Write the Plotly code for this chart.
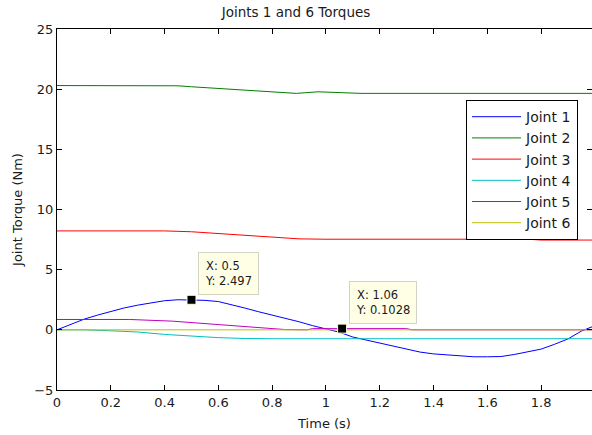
import plotly.graph_objects as go

# ---- data ----
t_j1 = [0, 0.05, 0.1, 0.15, 0.2, 0.25, 0.3, 0.35, 0.4, 0.45, 0.5, 0.55, 0.6, 0.65, 0.7,
        0.75, 0.8, 0.85, 0.9, 0.95, 1.0, 1.05, 1.1, 1.15, 1.2, 1.25, 1.3, 1.35, 1.4,
        1.45, 1.5, 1.55, 1.6, 1.65, 1.7, 1.75, 1.8, 1.85, 1.9, 1.95, 2.0]
joint1 = [0, 0.42, 0.88, 1.22, 1.55, 1.82, 2.05, 2.25, 2.42, 2.5, 2.5, 2.45, 2.35, 2.1,
          1.8, 1.5, 1.23, 0.95, 0.67, 0.35, 0.1, -0.2, -0.6, -0.85, -1.1, -1.3, -1.55,
          -1.85, -2.0, -2.1, -2.2, -2.24, -2.24, -2.22, -2.05, -1.85, -1.6, -1.2, -0.75,
          -0.1, 0.35]

t_j2 = [0, 0.4, 0.45, 0.5, 0.6, 0.7, 0.8, 0.89, 0.97, 1.13, 2.0]
joint2 = [20.3, 20.3, 20.28, 20.2, 20.05, 19.9, 19.8, 19.65, 19.78, 19.65, 19.65]

t_j3 = [0, 0.4, 0.5, 0.6, 0.7, 0.8, 0.9, 1.0, 1.75, 1.8, 2.0]
joint3 = [8.22, 8.22, 8.15, 8.0, 7.82, 7.68, 7.56, 7.53, 7.53, 7.46, 7.46]

t_j4 = [0, 0.1, 0.2, 0.3, 0.4, 0.5, 0.6, 0.7, 0.8, 2.0]
joint4 = [0, 0, -0.08, -0.18, -0.38, -0.52, -0.65, -0.72, -0.74, -0.74]

t_j5 = [0, 0.27, 0.43, 0.5, 0.6, 0.7, 0.75, 0.8, 0.85, 0.93, 0.95, 1.3, 1.32, 2.0]
joint5 = [0.86, 0.86, 0.72, 0.6, 0.45, 0.28, 0.14, 0.1, 0.02, 0.0, 0.1, 0.1, 0.0, 0.0]

t_j6 = [0, 2.0]
joint6 = [0, 0]

tip_x = [0.5, 1.06]
tip_y = [2.497, 0.1028]
tip_labels = ["X: 0.5<br>Y: 2.497", "X: 1.06<br>Y: 0.1028"]

series = [
    ("Joint 1", t_j1, joint1, "#0000FF"),
    ("Joint 2", t_j2, joint2, "#008000"),
    ("Joint 3", t_j3, joint3, "#FF0000"),
    ("Joint 4", t_j4, joint4, "#00BFBF"),
    ("Joint 5", t_j5, joint5, "#BF00BF"),
    ("Joint 6", t_j6, joint6, "#BFBF00"),
]

FONT = "DejaVu Sans, Verdana, sans-serif"
TXT = "#1a1a1a"

fig = go.Figure()
for name, tx, ty, col in series:
    fig.add_trace(go.Scatter(x=tx, y=ty, mode="lines", name=name,
                             line=dict(color=col, width=1)))

fig.add_trace(go.Scatter(x=tip_x, y=tip_y, mode="markers", showlegend=False,
                         marker=dict(symbol="square", size=9, color="black",
                                     line=dict(color="#FFFFE1", width=1))))

for x, y, txt in zip(tip_x, tip_y, tip_labels):
    fig.add_annotation(x=x, y=y, text=txt, showarrow=False, align="left",
                       xanchor="left", yanchor="bottom", xshift=7, yshift=5,
                       bgcolor="#FFFFE6", bordercolor="#D4D4C4", borderwidth=1,
                       borderpad=6, font=dict(family=FONT, size=11.5, color=TXT))

axis_common = dict(showline=True, linecolor="black", linewidth=1, mirror="ticks",
                   ticks="inside", ticklen=5, tickcolor="black", showgrid=False,
                   zeroline=False, automargin=False,
                   tickfont=dict(family=FONT, size=13, color=TXT))

fig.update_layout(
    width=592, height=435,
    margin=dict(l=57, r=0, t=29, b=45),
    paper_bgcolor="white", plot_bgcolor="white",
    title=dict(text="Joints 1 and 6 Torques", x=0.5, xanchor="center",
               y=0.972, yanchor="middle",
               font=dict(family=FONT, size=13.5, color=TXT)),
    xaxis=dict(range=[0, 1.989], tickvals=[0, 0.2, 0.4, 0.6, 0.8, 1, 1.2, 1.4, 1.6, 1.8, 2],
               ticktext=["0", "0.2", "0.4", "0.6", "0.8", "1", "1.2", "1.4", "1.6", "1.8", "2"],
               title=dict(text="Time (s)", standoff=10,
                          font=dict(family=FONT, size=13, color=TXT)),
               **axis_common),
    yaxis=dict(range=[-5, 25], tickvals=[-5, 0, 5, 10, 15, 20, 25],
               title=dict(text="Joint Torque (Nm)", standoff=8,
                          font=dict(family=FONT, size=13, color=TXT)),
               **axis_common),
    legend=dict(x=0.7645, xanchor="left", y=0.803, yanchor="top",
                bgcolor="white", bordercolor="black", borderwidth=1,
                font=dict(family=FONT, size=14, color=TXT),
                tracegroupgap=0, itemwidth=49),
    showlegend=True,
)

fig.write_html("out.html",
               config={"displayModeBar": False},
               post_script="document.body.style.margin='0px';"
                           "document.body.style.overflow='hidden';")
